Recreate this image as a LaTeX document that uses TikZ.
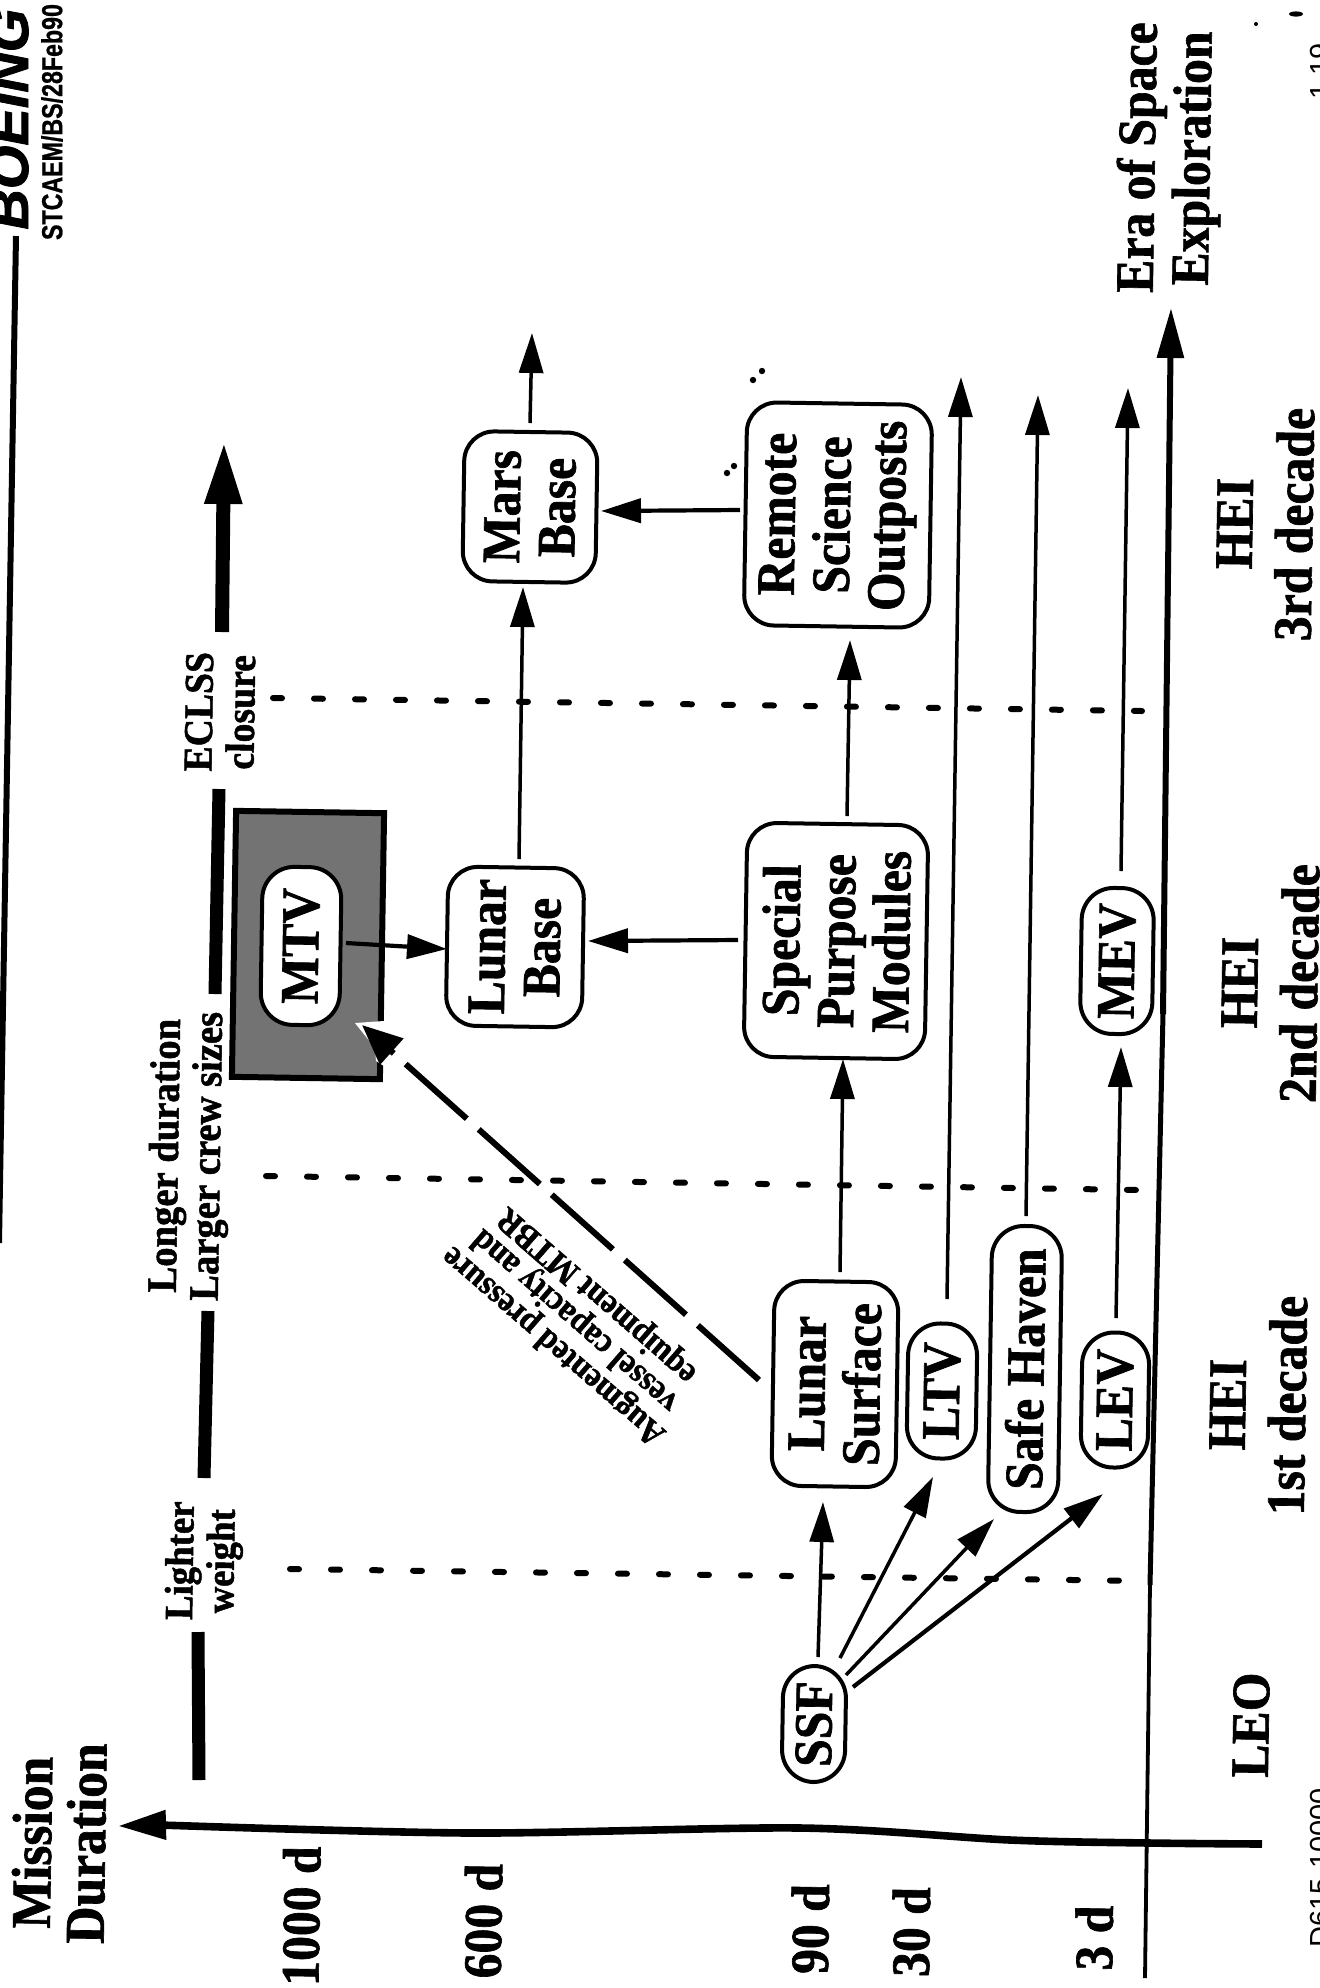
\documentclass[tikz,border=0pt]{standalone}
\usepackage{fontspec}
\setmainfont{Liberation Serif}[BoldFeatures={FakeStretch=0.92,FakeBold=1.2}]
\newfontfamily\hsans{Liberation Sans}[BoldFeatures={FakeStretch=0.8,FakeBold=0.8}]
\newfontfamily\hlogo{Liberation Sans}[BoldItalicFeatures={FakeBold=1.5}]
\usetikzlibrary{arrows.meta}
\tikzset{
  lab/.style={rotate=89.1,align=center,inner sep=0pt,font=\fontsize{27}{27.5}\selectfont\bfseries},
  labwide/.style={lab,font=\fontsize{27}{30}\selectfont\bfseries},
  labsmall/.style={lab,font=\fontsize{21}{21}\selectfont\bfseries},
  boxn/.style={lab,draw=black,line width=2pt,fill=white,rounded corners=15pt},
  pill/.style={boxn,rounded corners=16pt},
  arr/.style={line width=1.75pt,-{Triangle[length=20pt,width=12pt]}},
  arrb/.style={line width=2.1pt,-{Triangle[length=20pt,width=12pt]}},
  dotline/.style={line width=3pt,line cap=round,dash pattern=on 4.5pt off 16pt},
  bar/.style={line width=6.5pt},
  speck/.style={fill=black},
}
\begin{document}
\begin{tikzpicture}[x=0.5pt,y=-0.5pt]
\useasboundingbox (0,0) rectangle (1320,1988);
\fill[white] (0,0) rectangle (1320,1988);

% header
\coordinate (topa) at (16,236);
\coordinate (topb) at (-1,1243);
\draw[line width=3pt] (topa) -- (topb);
\node[rotate=90,anchor=base west,inner sep=0pt,font=\hlogo\fontsize{28}{28}\selectfont\bfseries\itshape] (boeing) at (28,230) {BOEING};
\node[rotate=90,inner sep=0pt,font=\hsans\fontsize{14.5}{14.5}\selectfont\bfseries] (stc) at (52,122) {STCAEM/BS/28Feb90};
\node[rotate=90,anchor=base west,inner sep=0pt,font=\hsans\fontsize{14.5}{14.5}\selectfont] (docno) at (1330,1948) {D615-10000};
\node[rotate=90,anchor=base west,inner sep=0pt,font=\hsans\fontsize{14.5}{14.5}\selectfont] (pageno) at (1330,100) {1.19};

% axes
\coordinate (yend) at (160,1825);
\coordinate (ytip) at (118,1826);
\draw[line width=3.8pt] plot[smooth] coordinates {(1262,1844) (1149,1843) (1010,1840) (800,1828) (471,1833) (160,1825)};
\draw[line width=3.8pt,-{Triangle[length=24pt,width=14pt]}] (yend) -- (ytip);
\coordinate (xa) at (1145,1978); \coordinate (xb) at (1150,1585); \coordinate (xc) at (1163,1014);
\coordinate (xd) at (1171,361); \coordinate (xtip) at (1171,308);
\draw[line width=1.9pt] (xa) -- (xb);
\draw[line width=2.5pt] (xb) -- (xc);
\draw[line width=3pt,-{Triangle[length=25pt,width=13pt]}] (xc) -- (xtip);

% dashed lines
\coordinate (d1a) at (290,1569); \coordinate (d1b) at (1145,1581);
\coordinate (d2a) at (266,1176); \coordinate (d2b) at (1138,1190);
\coordinate (d3a) at (273,698);  \coordinate (d3b) at (1142,711);
\draw[dotline] (d1a) -- (d1b);
\draw[dotline] (d2a) -- (d2b);
\draw[dotline] (d3a) -- (d3b);

% top bars
\coordinate (b1a) at (199,1780); \coordinate (b1b) at (198,1632);
\coordinate (b2a) at (204,1478); \coordinate (b2b) at (208,1311);
\coordinate (b3a) at (215,994);  \coordinate (b3b) at (219,789);
\coordinate (b4a) at (222,632);  \coordinate (b4b) at (224,440);
\draw[bar] (b1a) -- (b1b);
\draw[bar] (b2a) -- (b2b);
\draw[bar] (b3a) -- (b3b);
\draw[line width=7pt,-{Triangle[length=32pt,width=17pt]}] (b4a) -- (b4b);

% MTV frame
\node[rotate=89.1,draw=black,line width=3pt,fill=black!55,minimum width=133pt,minimum height=74pt,inner sep=0pt] (mtvframe) at (308,945) {};
\coordinate (h1) at (355,1023); \coordinate (h2) at (375,1048); \coordinate (h3) at (376,1061);
\coordinate (h4) at (387,1068); \coordinate (h5) at (407,1039); \coordinate (h6) at (384,1021);
\fill[white] (h1) -- (h2) -- (h3) -- (h4) -- (h5) -- (h6) -- cycle;

% nodes
\node[boxn,minimum height=66.5pt,minimum width=75pt] (mars) at (530,507) {Mars\\Base};
\node[boxn,minimum height=92.5pt,minimum width=111.5pt] (remote) at (838,515) {Remote\\Science\\Outposts};
\node[boxn,minimum height=68pt,minimum width=79.5pt] (lunarbase) at (515,947) {Lunar\\Base};
\node[boxn,minimum height=90.5pt,minimum width=117pt] (special) at (836,941) {Special\\Purpose\\Modules};
\node[boxn,minimum height=62pt,minimum width=102.5pt] (surface) at (835,1384) {Lunar\\Surface};
\node[pill,minimum height=34.5pt,minimum width=67.5pt] (ltv) at (942,1391) {LTV};
\node[pill,minimum height=35pt,minimum width=143pt] (safe) at (1025,1369) {Safe Haven};
\node[pill,minimum height=33.5pt,minimum width=67.5pt] (lev) at (1115,1400) {LEV};
\node[pill,minimum height=36pt,minimum width=73pt] (mev) at (1117,961) {MEV};
\node[pill,minimum height=39.5pt,minimum width=79pt] (mtv) at (301,946) {MTV};
\node[pill,minimum height=31.5pt,minimum width=58pt] (ssf) at (814,1724) {SSF};

% free ends
\coordinate (marsout) at (532,333);
\coordinate (ltvout) at (961,377);
\coordinate (safeout) at (1038,395);
\coordinate (mevout) at (1128,388);

% connectors
\draw[arr] ([shift={(0,-84)}]mars.center) -- (marsout);
\draw[arr] ([shift={(4,-88)}]lunarbase.center) -- ([shift={(-7,80)}]mars.center);
\draw[arrb] ([shift={(-98,-5)}]remote.center) -- ([shift={(71,4)}]mars.center);
\draw[arr] ([shift={(11,-125)}]special.center) -- ([shift={(12,125)}]remote.center);
\draw[arrb] ([shift={(45,-3)}]mtv.center) -- ([shift={(-68,2)}]lunarbase.center);
\draw[arrb] ([shift={(-98,-1)}]special.center) -- ([shift={(73,-6)}]lunarbase.center);
\draw[arr] ([shift={(5,-112)}]surface.center) -- ([shift={(7,118)}]special.center);
\draw[arr] ([shift={(5,-92)}]ltv.center) -- (ltvout);
\draw[arr] ([shift={(1,-153)}]safe.center) -- (safeout);
\draw[arr] ([shift={(1,-82)}]lev.center) -- ([shift={(4,86)}]mev.center);
\draw[arr] ([shift={(4,-90)}]mev.center) -- (mevout);
\draw[arr] ([shift={(4,-67)}]ssf.center) -- ([shift={(-12,118)}]surface.center);
\draw[arr] ([shift={(26,-66)}]ssf.center) -- ([shift={(-9,86)}]ltv.center);
\draw[arr] ([shift={(32,-49)}]ssf.center) -- ([shift={(-31,150)}]safe.center);
\draw[arrb] ([shift={(39,-37)}]ssf.center) -- ([shift={(-12,94)}]lev.center);
\draw[line width=3pt,dash pattern=on 41pt off 8pt,-{Triangle[length=20pt,width=17pt]}] ([shift={(-76,-4)}]surface.center) -- ([shift={(61,79)}]mtv.center);

% labels
\node[lab,font=\fontsize{28}{27}\selectfont\bfseries] (mission) at (59,1843) {Mission\\Duration};
\node[lab] (v1000) at (301,1916) {1000 d};
\node[lab] (v600) at (483,1921) {600 d};
\node[lab] (v90) at (810,1929) {90 d};
\node[lab] (v30) at (911,1932) {30 d};
\node[lab] (v3) at (1094,1938) {3 d};
\node[lab] (leo) at (1251,1725) {LEO};
\node[labwide] (hei1) at (1258,1405) {HEI\\1st decade};
\node[labwide] (hei2) at (1270,983) {HEI\\2nd decade};
\node[labwide] (hei3) at (1265,524) {HEI\\3rd decade};
\node[lab] (era) at (1169,158) {Era of Space\\Exploration};
\node[labsmall,font=\fontsize{20}{20.5}\selectfont\bfseries] (lighter) at (204,1561) {Lighter\\weight};
\node[labsmall] (longer) at (189,1156) {Longer duration\\Larger crew sizes};
\node[labsmall,font=\fontsize{20.5}{21}\selectfont\bfseries] (eclss) at (220,712) {ECLSS\\closure};
\node[rotate=139,align=center,inner sep=0pt,font=\fontsize{17.5}{16.5}\selectfont\bfseries] (augm) at (576,1320) {Augmented pressure\\vessel capacity and\\equipment MTBR};

% specks
\fill[speck] (734,466) circle (1.6pt);
\fill[speck] (727,473) circle (1.6pt);
\fill[speck] (762,371) circle (1.6pt);
\fill[speck] (753,380) circle (1.6pt);
\fill[speck] (1296,14) ellipse (3.5pt and 1.3pt);
\fill[speck] (1256,24) circle (1pt);
\end{tikzpicture}
\end{document}
